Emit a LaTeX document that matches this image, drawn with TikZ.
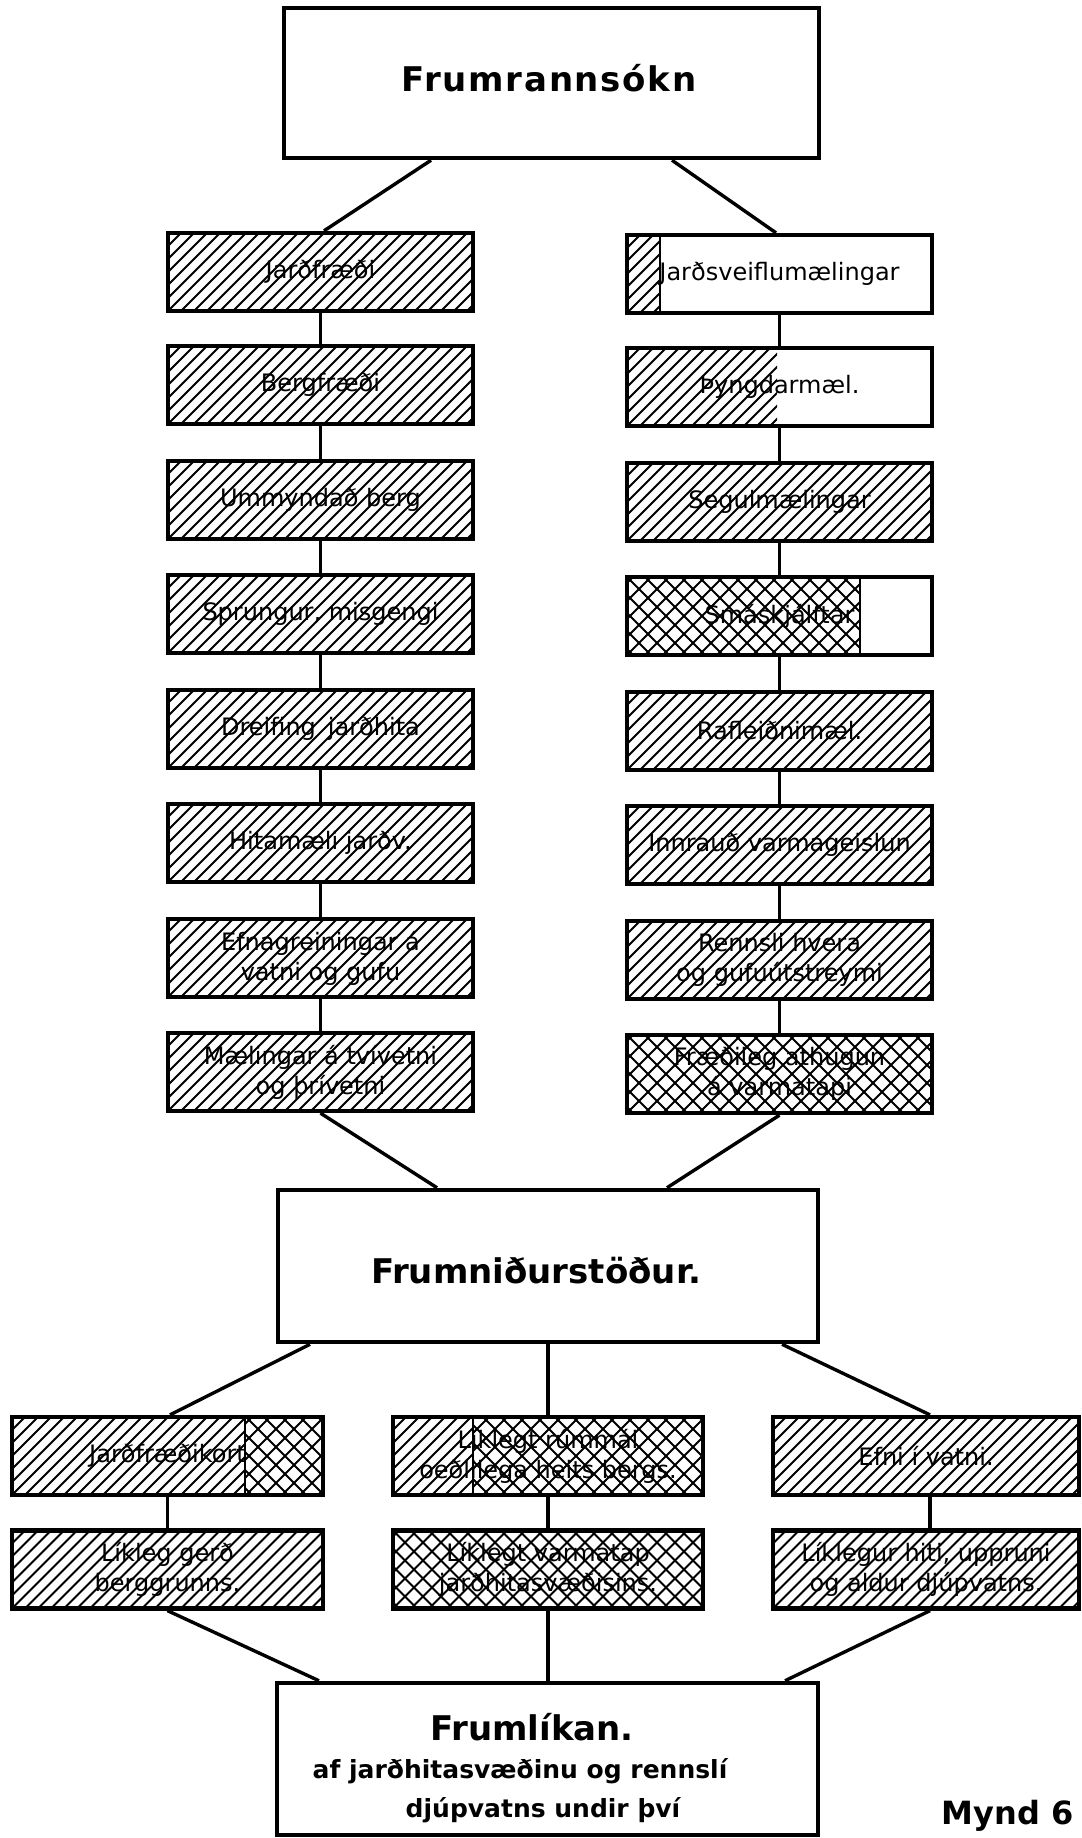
\documentclass[tikz,border=0pt]{standalone}
\usepackage{fontspec}
\setmainfont{DejaVu Sans}
\usetikzlibrary{calc}

% text sizes
\newcommand\lblfont{\fontsize{24}{30}\selectfont}
\newcommand\titlefont{\fontsize{34}{40}\selectfont\bfseries\addfontfeatures{LetterSpace=5}}
\newcommand\headfont{\fontsize{34}{40}\selectfont\bfseries}
\newcommand\subfont{\fontsize{25}{30}\selectfont\bfseries}

% single diagonal hatching between two x offsets of the node
\newcommand\hatchfill[2]{%
  \begin{scope}
    \clip ([xshift=#1pt]path picture bounding box.south west) rectangle
          ([xshift=#2pt]path picture bounding box.north west);
    \foreach \k in {-8,...,26}
      \draw[hatchline] ([xshift=\k*13pt]path picture bounding box.south west) -- ++(100pt,100pt);
  \end{scope}}
% cross hatching between two x offsets of the node
\newcommand\crossfill[2]{%
  \begin{scope}
    \clip ([xshift=#1pt]path picture bounding box.south west) rectangle
          ([xshift=#2pt]path picture bounding box.north west);
    \foreach \k in {-7,...,20}{
      \draw[hatchline] ([xshift=\k*18pt]path picture bounding box.south west) -- ++(100pt,100pt);
      \draw[hatchline] ([xshift=\k*18pt]path picture bounding box.north west) -- ++(100pt,-100pt);}
  \end{scope}}
% thin divider where two fillings meet
\newcommand\splitline[1]{%
  \draw[line width=1.8pt] ([xshift=#1pt]path picture bounding box.south west) --
                          ([xshift=#1pt]path picture bounding box.north west);}

\tikzset{
  cell/.style={draw, line width=4.3pt, rectangle, inner sep=0pt, align=center, font=\lblfont},
  colbox/.style={cell, minimum width=305pt, minimum height=78pt},
  lowbox/.style={cell, minimum height=78pt},
  bigbox/.style={cell, line width=4.5pt},
  link/.style={line width=3.4pt},
  hatchline/.style={line width=1.9pt},
  hatched/.style={path picture={\hatchfill{0}{400}}},
  crossed/.style={path picture={\crossfill{0}{400}}},
}

\begin{document}
\begin{tikzpicture}[x=1pt,y=-1pt]
\useasboundingbox (0,0) rectangle (1081,1838);
\fill[white] (0,0) rectangle (1081,1838);

% top
\node[bigbox, minimum width=535pt, minimum height=150pt] (top) at (551.5,83) {};
\node[font=\titlefont, anchor=base] (top-t) at (549,92) {Frumrannsókn};

% left column
\node[colbox, hatched] (l1) at (320.5,272)  {Jarðfræði};
\node[colbox, hatched] (l2) at (320.5,385)  {Bergfræði};
\node[colbox, hatched] (l3) at (320.5,500)  {Ummyndað berg};
\node[colbox, hatched] (l4) at (320.5,614)  {Sprungur, misgengi};
\node[colbox, hatched] (l5) at (320.5,729)  {Dreifing\enspace jarðhita};
\node[colbox, hatched] (l6) at (320.5,843)  {Hitamæli jarðv.};
\node[colbox, hatched] (l7) at (320.5,958)  {Efnagreiningar á\\vatni og gufu};
\node[colbox, hatched] (l8) at (320.5,1072) {Mælingar á tvívetni\\og þrívetni};

% right column
\node[colbox, path picture={\hatchfill{0}{33}\splitline{33}}] (r1) at (779.5,274) {Jarðsveiflumælingar};
\node[colbox, path picture={\hatchfill{0}{150}}] (r2) at (779.5,387) {Þyngdarmæl.};
\node[colbox, hatched] (r3) at (779.5,502) {Segulmælingar};
\node[colbox, path picture={\crossfill{0}{233}\splitline{233}}] (r4) at (779.5,616) {Smáskjálftar};
\node[colbox, hatched] (r5) at (779.5,731) {Rafleiðnimæl.};
\node[colbox, hatched] (r6) at (779.5,845) {Innrauð varmageislun};
\node[colbox, hatched] (r7) at (779.5,960) {Rennsli hvera\\og gufuútstreymi};
\node[colbox, crossed] (r8) at (779.5,1074) {Fræðileg athugun\\á varmatapi};

% first results
\node[bigbox, minimum width=540pt, minimum height=152pt] (mid) at (548,1266) {};
\node[font=\headfont, anchor=base] (mid-t) at (536,1283) {Frumniðurstöður.};

% bottom rows
\node[lowbox, minimum width=311pt, path picture={\hatchfill{0}{233}\crossfill{233}{400}\splitline{233}}] (bl1) at (167.5,1456) {Jarðfræðikort};
\node[lowbox, minimum width=311pt, hatched] (bl2) at (167.5,1569.5) {Líkleg gerð\\berggrunns.};
\node[lowbox, minimum width=310pt, path picture={\hatchfill{0}{80}\crossfill{80}{400}\splitline{80}}] (bm1) at (548,1456) {Líklegt rúmmál\\óeðlilega heits bergs.};
\node[lowbox, minimum width=310pt, crossed] (bm2) at (548,1569.5) {Líklegt varmatap\\jarðhitasvæðisins.};
\node[lowbox, minimum width=306pt, hatched] (br1) at (926,1456) {Efni í vatni.};
\node[lowbox, minimum width=306pt, hatched] (br2) at (926,1569.5) {Líklegur hiti, uppruni\\og aldur djúpvatns.};

% model
\node[bigbox, minimum width=541pt, minimum height=152pt] (flikan) at (547.5,1759) {};
\node[font=\headfont, anchor=base] (flikan-a) at (532,1740) {Frumlíkan.};
\node[font=\subfont, anchor=base] (flikan-b) at (520,1778) {af jarðhitasvæðinu og rennslí};
\node[font=\subfont, anchor=base] (flikan-c) at (543,1817) {djúpvatns undir því};

\node[font=\fontsize{32}{36}\selectfont\bfseries, anchor=base west] (fig) at (938,1824) {Mynd 6};

% connectors
\draw[link] ([xshift=-120.5pt]top.south) -- ([xshift=3.5pt]l1.north);
\draw[link] ([xshift=120.5pt]top.south) -- ([xshift=-3.5pt]r1.north);
\foreach \a/\b in {l1/l2,l2/l3,l3/l4,l4/l5,l5/l6,l6/l7,l7/l8,
                   r1/r2,r2/r3,r3/r4,r4/r5,r5/r6,r6/r7,r7/r8,
                   bl1/bl2,bm1/bm2}
  \draw[link] (\a.south) -- (\b.north);
\draw[link] ([xshift=4pt]br1.south) -- ([xshift=4pt]br2.north);
\draw[link] (l8.south) -- ([xshift=-111pt]mid.north);
\draw[link] (r8.south) -- ([xshift=119pt]mid.north);
\draw[link] ([xshift=-238pt]mid.south) -- ([xshift=2.5pt]bl1.north);
\draw[link] (mid.south) -- (bm1.north);
\draw[link] ([xshift=234pt]mid.south) -- ([xshift=4pt]br1.north);
\draw[link] (bl2.south) -- ([xshift=-228.5pt]flikan.north);
\draw[link] (bm2.south) -- (bm2.south |- flikan.north);
\draw[link] ([xshift=4pt]br2.south) -- ([xshift=237.5pt]flikan.north);
\end{tikzpicture}
\end{document}
